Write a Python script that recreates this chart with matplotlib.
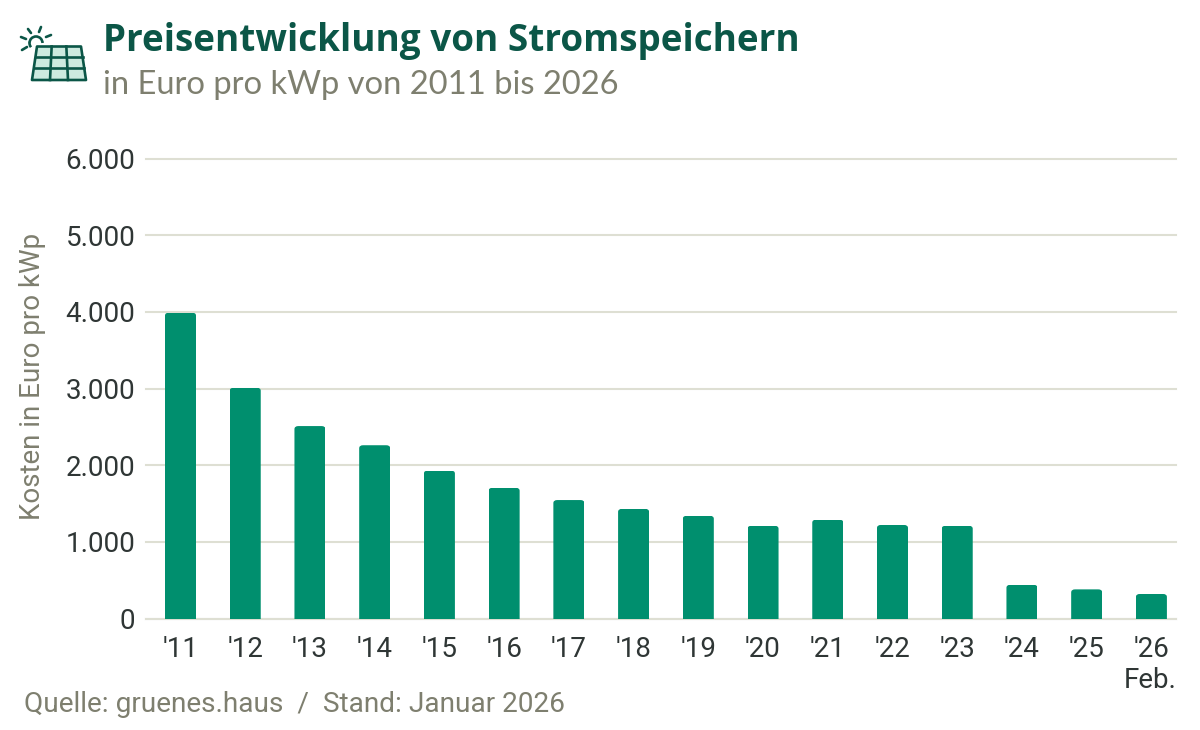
"""Preisentwicklung von Stromspeichern, bar chart with header icon."""
import matplotlib
matplotlib.use("Agg")
import matplotlib.pyplot as plt
from matplotlib.patches import FancyBboxPatch, Polygon, Arc

years = ["'11", "'12", "'13", "'14", "'15", "'16", "'17", "'18",
         "'19", "'20", "'21", "'22", "'23", "'24", "'25", "'26"]
preis = [3990, 3010, 2510, 2260, 1930, 1705, 1545, 1430,
         1340, 1210, 1290, 1220, 1210, 440, 380, 320]
y_ticks = [0, 1000, 2000, 3000, 4000, 5000, 6000]
y_labels = ["0", "1.000", "2.000", "3.000", "4.000", "5.000", "6.000"]

_green = "#008F6E"
_dark = "#0B5647"
_grey = "#7E7F6F"
_grid = "#DEDFD3"
_text = "#2F3635"

W, H = 1200, 730
plt.rcParams['font.family'] = ['Roboto', 'DejaVu Sans']

fig = plt.figure(figsize=(W / 100, H / 100), dpi=100)
ax = fig.add_axes([146 / W, 1 - 618.5 / H, 1030 / W, 460 / H])

x_pos = list(range(len(years)))
bars = ax.bar(x_pos, preis, width=0.479, color=_green, zorder=3)
ax.set_xlim(-0.533, 15.38)
ax.set_ylim(0, 6000)

# rounded top corners: clip each bar with a rounded box
for bar in bars:
    clip = FancyBboxPatch((bar.get_x(), -200), bar.get_width(),
                          bar.get_height() + 200,
                          boxstyle="round,pad=0,rounding_size=0.06",
                          mutation_aspect=660, transform=ax.transData,
                          fc="none", ec="none")
    bar.set_clip_path(clip)

ax.set_yticks(y_ticks)
ax.set_yticklabels(y_labels, fontsize=20, color=_text)
ax.set_xticks(x_pos)
ax.set_xticklabels(years, fontsize=20, color=_text)
ax.tick_params(axis='y', length=0, pad=7.5)
ax.tick_params(axis='x', length=0, pad=12.3)
ax.yaxis.grid(True, color=_grid, linewidth=1.5, zorder=0, clip_on=False)
ax.set_axisbelow(True)
for s in ["top", "right", "left"]:
    ax.spines[s].set_visible(False)
ax.spines["bottom"].set_color(_grid)
ax.spines["bottom"].set_linewidth(1.5)

fig.text(33 / W, 1 - 376 / H, "Kosten in Euro pro kWp", rotation=90, ha="center",
         va="center", fontsize=20, color=_grey)
fig.text(1177 / W, 1 - 680 / H, "Feb.", ha="right", va="center", fontsize=20,
         color=_text)
fig.text(24 / W, 1 - 704.5 / H, "Quelle: gruenes.haus  /  Stand: Januar 2026",
         ha="left", va="center", fontsize=20.2, color=_grey)

fig.text(103 / W, 1 - 41 / H, "Preisentwicklung von Stromspeichern", ha="left",
         va="center", fontsize=26.6, fontweight="bold", color=_dark,
         family=['Open Sans', 'DejaVu Sans'])
fig.text(103 / W, 1 - 84.5 / H, "in Euro pro kWp von 2011 bis 2026", ha="left",
         va="center", fontsize=23.6, color=_grey,
         family=['Lato', 'DejaVu Sans'])

# header icon, drawn in pixel coordinates
icon = fig.add_axes([0, 0, 1, 1], zorder=5)
icon.set_xlim(0, W)
icon.set_ylim(H, 0)
icon.axis("off")
icon.patch.set_alpha(0)
lw = 1.9
panel = [(37, 46.5), (81, 46.5), (86, 80), (32, 80)]
icon.add_patch(Polygon(panel, closed=True, fc="#CDEADF", ec=_dark, lw=lw,
                       joinstyle="round"))
for f in (1 / 3, 2 / 3):
    icon.plot([37 + 44 * f, 32 + 54 * f], [46.5, 80], color=_dark, lw=lw)
for yy, xl, xr in ((57, 35.5, 82.6), (67.5, 33.9, 84.1)):
    icon.plot([xl, xr], [yy, yy], color=_dark, lw=lw)
icon.add_patch(Arc((36, 43), 13, 13, theta1=180, theta2=360, ec=_dark, lw=lw))
icon.add_patch(Arc((36, 43), 13, 13, theta1=140, theta2=185, ec=_dark, lw=lw))
for seg in (((21, 37), (26, 39)), ((28, 29), (31, 33)), ((41, 27), (39, 32)),
            ((51, 35), (46, 37)), ((22, 50), (27, 47))):
    icon.plot(*zip(*seg), color=_dark, lw=lw, solid_capstyle="round")

fig.savefig("out.png", dpi=100, facecolor="white")
